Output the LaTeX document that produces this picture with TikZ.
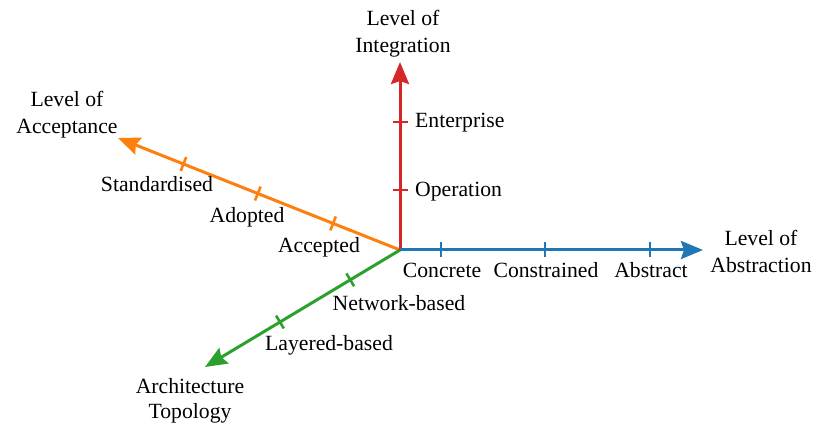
\documentclass[tikz,border=0pt]{standalone}
\usepackage{fontspec}
\setmainfont{Liberation Serif}
\newfontfamily\lblfont{Liberation Serif}
\usetikzlibrary{arrows.meta,calc}
\definecolor{tabblue}{HTML}{1F77B4}
\definecolor{taborange}{HTML}{FF7F0E}
\definecolor{tabgreen}{HTML}{2CA02C}
\definecolor{tabred}{HTML}{D62728}
\begin{document}
\begin{tikzpicture}[x=1pt,y=-1pt,
  axisline/.style={line width=3pt,-{Stealth[length=22pt,width=18pt,inset=3pt]}},
  tickline/.style={line width=2.6pt},
  lbl/.style={font=\lblfont\fontsize{21.7}{27}\selectfont, inner sep=0pt},
  ttl/.style={lbl, align=center, anchor=north}]
\useasboundingbox (0,0) rectangle (813,427);
\coordinate (O) at (400,250);
\coordinate (R) at (400,62);
\coordinate (B) at (703,250);
\coordinate (Ac) at (118,138);
\coordinate (G) at (205,367);
% tick positions
\coordinate (r1) at (400,190);
\coordinate (r2) at (400,122);
\coordinate (b1) at (441,250);
\coordinate (b2) at (545,250);
\coordinate (b3) at (650,250);
\coordinate (o1) at ($(O)!72pt!(Ac)$);
\coordinate (o2) at ($(O)!153pt!(Ac)$);
\coordinate (o3) at ($(O)!233pt!(Ac)$);
\coordinate (g1) at ($(O)!58pt!(G)$);
\coordinate (g2) at ($(O)!140pt!(G)$);
% axes
\draw[axisline,taborange] (O) -- (Ac);
\draw[axisline,tabgreen] (O) -- (G);
\draw[axisline,tabred] (O) -- (R);
\draw[axisline,tabblue] (O) -- (B);
% ticks
\foreach \t in {r1,r2}
  \draw[tickline,tabred] ([xshift=-7.5pt]\t) -- ([xshift=7.5pt]\t);
\foreach \t in {b1,b2,b3}
  \draw[tickline,tabblue] ([yshift=-7.5pt]\t) -- ([yshift=7.5pt]\t);
\foreach \t in {o1,o2,o3}
  \draw[tickline,taborange] ($(\t)!7.5pt!90:(O)$) -- ($(\t)!7.5pt!-90:(O)$);
\foreach \t in {g1,g2}
  \draw[tickline,tabgreen] ($(\t)!7.5pt!90:(O)$) -- ($(\t)!7.5pt!-90:(O)$);
% titles
\node[ttl] (tInt) at (403,10.2) {Level of\\Integration};
\node[ttl] (tAcc) at (67,91.2) {Level of\\Acceptance};
\node[ttl] (tAbs) at (761,230.2) {Level of\\Abstraction};
\node[ttl] (tTop) at (190,378.2) {Architecture\\[-2pt]Topology};
% tick labels
\node[lbl,anchor=base west] (lEnt) at (415,128) {Enterprise};
\node[lbl,anchor=base west] (lOp) at (415,197) {Operation};
\node[lbl,anchor=base] (lCon) at (442,278) {Concrete};
\node[lbl,anchor=base] (lCst) at (546,278) {Constrained};
\node[lbl,anchor=base] (lAbs) at (651,278) {Abstract};
\node[lbl,anchor=base] (lStd) at (157,192) {Standardised};
\node[lbl,anchor=base] (lAdo) at (247,223) {Adopted};
\node[lbl,anchor=base] (lAcc) at (319,253) {Accepted};
\node[lbl,anchor=base] (lNet) at (399,310) {Network-based};
\node[lbl,anchor=base] (lLay) at (329,350) {Layered-based};
\end{tikzpicture}
\end{document}
